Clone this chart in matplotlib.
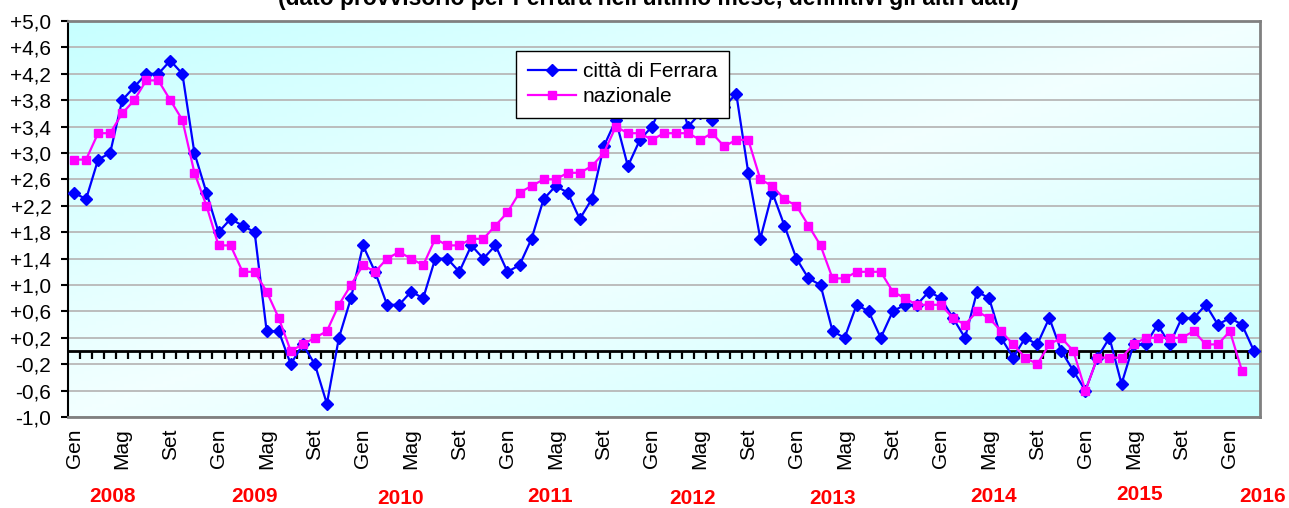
# Variazioni tendenziali dei prezzi al consumo: città di Ferrara vs nazionale
import numpy as np
import matplotlib.pyplot as plt
from matplotlib.transforms import blended_transform_factory

plt.rcParams['font.family'] = ['Liberation Sans', 'DejaVu Sans']

# dati mensili da Gen 2008 (Ferrara ha un mese in più, provvisorio)
ferrara = [2.4, 2.3, 2.9, 3.0, 3.8, 4.0, 4.2, 4.2, 4.4, 4.2, 3.0, 2.4,
           1.8, 2.0, 1.9, 1.8, 0.3, 0.3, -0.2, 0.1, -0.2, -0.8, 0.2, 0.8,
           1.6, 1.2, 0.7, 0.7, 0.9, 0.8, 1.4, 1.4, 1.2, 1.6, 1.4, 1.6,
           1.2, 1.3, 1.7, 2.3, 2.5, 2.4, 2.0, 2.3, 3.1, 3.5, 2.8, 3.2,
           3.4, 3.8, 4.0, 3.4, 3.6, 3.5, 3.7, 3.9, 2.7, 1.7, 2.4, 1.9,
           1.4, 1.1, 1.0, 0.3, 0.2, 0.7, 0.6, 0.2, 0.6, 0.7, 0.7, 0.9,
           0.8, 0.5, 0.2, 0.9, 0.8, 0.2, -0.1, 0.2, 0.1, 0.5, 0.0, -0.3,
           -0.6, -0.1, 0.2, -0.5, 0.1, 0.1, 0.4, 0.1, 0.5, 0.5, 0.7, 0.4,
           0.5, 0.4, 0.0]
nazionale = [2.9, 2.9, 3.3, 3.3, 3.6, 3.8, 4.1, 4.1, 3.8, 3.5, 2.7, 2.2,
             1.6, 1.6, 1.2, 1.2, 0.9, 0.5, 0.0, 0.1, 0.2, 0.3, 0.7, 1.0,
             1.3, 1.2, 1.4, 1.5, 1.4, 1.3, 1.7, 1.6, 1.6, 1.7, 1.7, 1.9,
             2.1, 2.4, 2.5, 2.6, 2.6, 2.7, 2.7, 2.8, 3.0, 3.4, 3.3, 3.3,
             3.2, 3.3, 3.3, 3.3, 3.2, 3.3, 3.1, 3.2, 3.2, 2.6, 2.5, 2.3,
             2.2, 1.9, 1.6, 1.1, 1.1, 1.2, 1.2, 1.2, 0.9, 0.8, 0.7, 0.7,
             0.7, 0.5, 0.4, 0.6, 0.5, 0.3, 0.1, -0.1, -0.2, 0.1, 0.2, 0.0,
             -0.6, -0.1, -0.1, -0.1, 0.1, 0.2, 0.2, 0.2, 0.2, 0.3, 0.1, 0.1,
             0.3, -0.3]
mesi = ['Gen', 'Mag', 'Set']
anni = ['2008', '2009', '2010', '2011', '2012', '2013', '2014', '2015', '2016']

# posizione (in mesi) e altezza (px dall'alto) delle etichette degli anni
anni_x = [3.2, 15.0, 27.1, 39.5, 51.4, 63.0, 76.4, 88.5, 98.7]
anni_y = [496, 496, 498, 496, 499, 498, 496, 494, 496]

W, H = 1289, 508
fig = plt.figure(figsize=(W / 100, H / 100), dpi=100)
ax = fig.add_axes([68 / W, 1 - 417 / H, 1192 / W, 396 / H])

# sfondo sfumato (ciano agli angoli, bianco sulla diagonale)
u = np.linspace(0, 1, 300)
w = np.linspace(0, 1, 120)
U, Wg = np.meshgrid(u, w)
s = np.abs(U + Wg - 1)
r = 0.95 - 0.17 * s
img = np.dstack([r, np.ones_like(r), np.ones_like(r)])
ax.imshow(img, extent=[0, 1, 0, 1], transform=ax.transAxes, aspect='auto', zorder=0)

x_f = np.arange(len(ferrara))
x_n = np.arange(len(nazionale))
ax.plot(x_f, ferrara, color='#0000FF', lw=1.6, marker='D', ms=6.5, mec='#0000FF',
        label='città di Ferrara', zorder=3)
ax.plot(x_n, nazionale, color='#FF00FF', lw=1.6, marker='s', ms=5.5, mec='#FF00FF',
        label='nazionale', zorder=4)

ax.set_xlim(-0.5, 98.5)
ax.set_ylim(-1.0, 5.0)
yt = np.round(np.arange(-1.0, 5.01, 0.4), 1)
ax.set_yticks(yt)
ax.set_yticklabels([f'{v:+.1f}'.replace('.', ',') for v in yt])
ax.yaxis.grid(True, color='#b8b8b8', lw=1.3)
ax.set_axisbelow(True)
ax.tick_params(axis='y', direction='out', length=5, width=1.5, pad=7, labelsize=15)

xt = np.arange(0, 97, 4)
ax.set_xticks(xt)
ax.set_xticklabels([mesi[i % 3] for i in range(len(xt))], rotation=90)
ax.tick_params(axis='x', length=0, pad=8, labelsize=15)

for side in ['top', 'right', 'bottom']:
    ax.spines[side].set_color('#808080')
    ax.spines[side].set_linewidth(2)
ax.spines['left'].set_color('black')
ax.spines['left'].set_linewidth(1.5)

# asse delle ascisse sullo zero, con tacche mensili
zero = ax.secondary_xaxis(1 / 6)
zero.set_xticks(np.arange(0.5, 98.5, 1))
zero.set_xticklabels([])
zero.tick_params(direction='out', length=6, width=1.6, color='black')
zero.spines['bottom'].set_color('black')
zero.spines['bottom'].set_linewidth(2)

leg = ax.legend(loc='upper left', bbox_to_anchor=(0.376, 0.925), fontsize=15,
                frameon=True, fancybox=False, framealpha=1, edgecolor='black',
                handlelength=2.3, handletextpad=0.35, labelspacing=0.3,
                borderpad=0.55, borderaxespad=0)
leg.get_frame().set_linewidth(1.0)
leg.set_zorder(10)

tr = blended_transform_factory(ax.transData, fig.transFigure)
for a, xa, ya in zip(anni, anni_x, anni_y):
    ax.text(xa, 1 - ya / H, a, transform=tr, ha='center', va='center',
            color='#FF0000', fontsize=15, fontweight='bold', clip_on=False)

fig.text(0.503, 1 - 4.5 / H,
         "(dato provvisorio per Ferrara nell'ultimo mese, definitivi gli altri dati)",
         ha='center', va='baseline', fontsize=16.5, fontweight='bold')

fig.savefig('out.png', dpi=100)
